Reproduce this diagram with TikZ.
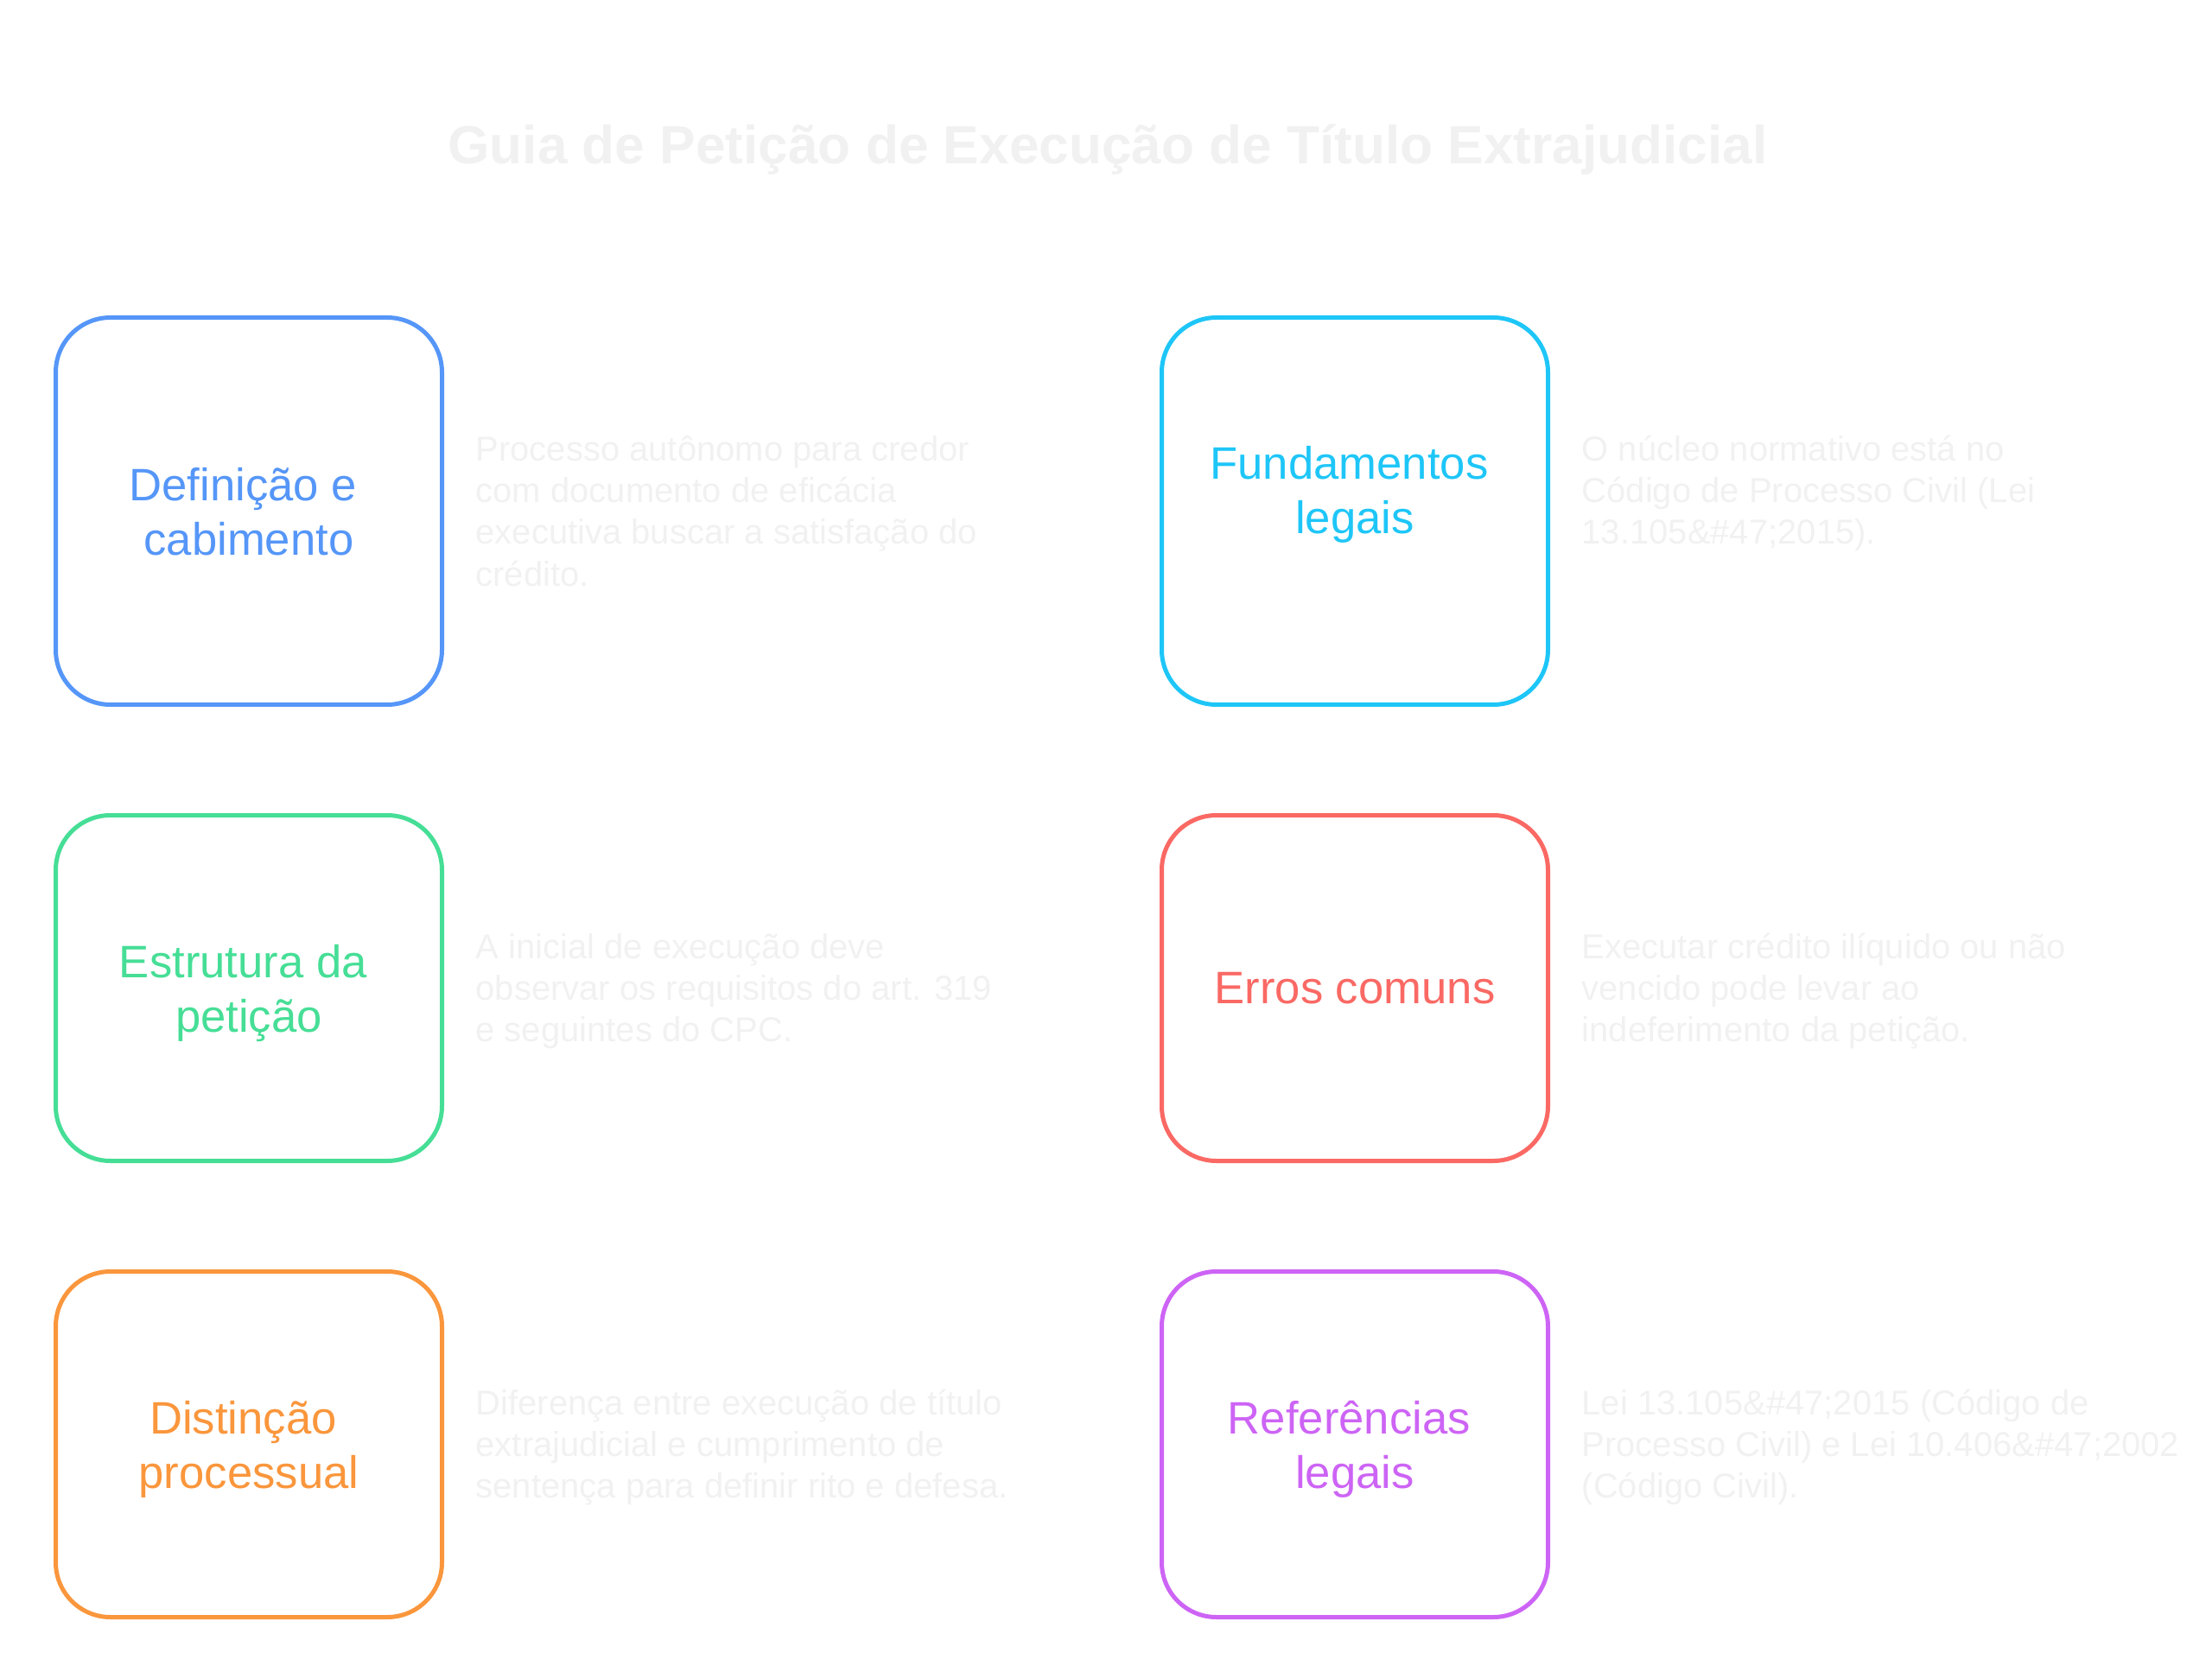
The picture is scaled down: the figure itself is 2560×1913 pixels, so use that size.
\documentclass[tikz,border=0pt]{standalone}
\usepackage{fontspec}
\setmainfont{Liberation Sans}
\usepackage{xcolor}
\usepackage{tikz}

\definecolor{defblue}{HTML}{5596F8}
\definecolor{fundcyan}{HTML}{1EC6F8}
\definecolor{estgreen}{HTML}{46DE96}
\definecolor{errred}{HTML}{FA6964}
\definecolor{distorange}{HTML}{FA963C}
\definecolor{refpurple}{HTML}{CD64F5}
\definecolor{faint}{HTML}{F1F1F1}

% trailing space kept at the end of a wrapped label line
\newcommand{\tsp}{\kern0.25em}

\begin{document}
\begin{tikzpicture}[x=0.3pt, y=-0.3pt,
    box/.style={shape=rectangle, draw=#1, text=#1, line width=1.5pt, rounded corners=19pt,
      minimum width=134.1pt, inner sep=0pt, align=center, text depth=0pt,
      font=\fontsize{15.8}{18.9}\selectfont},
    tall/.style={minimum height=134.4pt},
    short/.style={minimum height=120pt},
    desc/.style={anchor=base west, inner sep=0pt, align=left, text=faint,
      font=\fontsize{12}{14.45}\selectfont}]
    \useasboundingbox (0,0) rectangle (2560,1913);

    \node[anchor=base, text=faint, font=\fontsize{18.65}{22}\selectfont\bfseries] (title) at (1282,190)
      {Guia de Petição de Execução de Título Extrajudicial};

    % left column (desc nodes sit on the baseline of their last line)
    \node[box=defblue, tall] (defin) at (288,591.5) {Definição e\tsp\\cabimento};
    \node[desc] (defindesc) at (550,678) {Processo autônomo para credor\\com documento de eficácia\\executiva buscar a satisfação do\\crédito.};

    \node[box=estgreen, short] (estr) at (288,1143.5) {Estrutura da\tsp\\petição};
    \node[desc] (estrdesc) at (550,1205.5) {A inicial de execução deve\\observar os requisitos do art. 319\\e seguintes do CPC.};

    \node[box=distorange, short] (dist) at (288,1671.5) {Distinção\tsp\\processual};
    \node[desc] (distdesc) at (550,1733.5) {Diferença entre execução de título\\extrajudicial e cumprimento de\\sentença para definir rito e defesa.};

    % right column
    \node[box=fundcyan, tall, text depth=14.7pt] (fund) at (1568,591.5) {Fundamentos\tsp\\legais};
    \node[desc] (funddesc) at (1830,629.5) {O núcleo normativo está no\\Código de Processo Civil (Lei\\13.105\&\#47;2015).};

    \node[box=errred, short] (erros) at (1568,1143.5) {Erros comuns};
    \node[desc] (errosdesc) at (1830,1205.5) {Executar crédito ilíquido ou não\\vencido pode levar ao\\indeferimento da petição.};

    \node[box=refpurple, short] (refs) at (1568,1671.5) {Referências\tsp\\legais};
    \node[desc] (refsdesc) at (1830,1733.5) {Lei 13.105\&\#47;2015 (Código de\\Processo Civil) e Lei 10.406\&\#47;2002\\(Código Civil).};
  \end{tikzpicture}
\end{document}
